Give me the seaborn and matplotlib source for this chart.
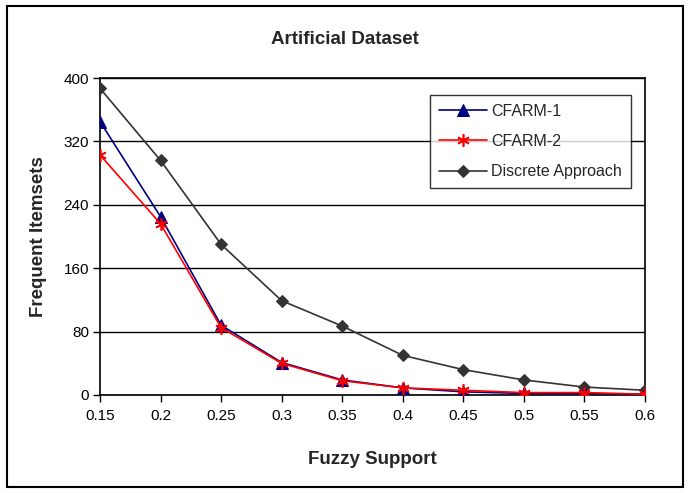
import matplotlib
matplotlib.use("Agg")
import matplotlib.pyplot as plt
import seaborn as sns
import pandas as pd
from matplotlib.patches import Rectangle

support = [0.15, 0.2, 0.25, 0.3, 0.35, 0.4, 0.45, 0.5, 0.55, 0.6]
cfarm1 = [345, 225, 88, 41, 19, 9, 4, 2, 2, 1]
cfarm2 = [303, 216, 85, 40, 18, 9, 6, 3, 3, 1]
discrete = [387, 296, 190, 119, 87, 50, 32, 19, 10, 6]
yticks = [0, 80, 160, 240, 320, 400]
xtick_labels = ["0.15", "0.2", "0.25", "0.3", "0.35", "0.4", "0.45", "0.5", "0.55", "0.6"]

sns.set_theme(style="white")
plt.rcParams['font.family'] = ['Liberation Sans', 'DejaVu Sans']

fig = plt.figure(figsize=(6.88, 4.93), dpi=100)
fig.patch.set_facecolor("white")
fig.patches.append(Rectangle((7/688, 6/493), 676/688, 481/493, transform=fig.transFigure,
                             fill=False, edgecolor="black", linewidth=1.5, zorder=0))

ax = fig.add_axes([100/688, (493-395)/493, 545/688, 317/493])

df1 = pd.DataFrame({"x": support, "y": cfarm1})
df2 = pd.DataFrame({"x": support, "y": cfarm2})
df3 = pd.DataFrame({"x": support, "y": discrete})

sns.lineplot(data=df1, x="x", y="y", ax=ax, color="#000080", marker="^", markersize=8,
             markeredgecolor="#000080", linewidth=1.2, label="CFARM-1", zorder=4)
sns.lineplot(data=df2, x="x", y="y", ax=ax, color="#FF0000", marker=(6, 2, 0), markersize=9,
             markeredgecolor="#FF0000", markeredgewidth=1.2, linewidth=1.2, label="CFARM-2", zorder=5)
sns.lineplot(data=df3, x="x", y="y", ax=ax, color="#333333", marker="D", markersize=6,
             markeredgecolor="#333333", linewidth=1.2, label="Discrete Approach", zorder=3)

ax.set_xlim(0.15, 0.6)
ax.set_ylim(0, 400)
ax.set_xticks(support)
ax.set_xticklabels(xtick_labels)
ax.set_yticks(yticks)
ax.yaxis.grid(True, color="black", linewidth=1.0)
ax.set_axisbelow(True)
for s in ax.spines.values():
    s.set_color("black")
    s.set_linewidth(1.2)
ax.tick_params(axis="both", which="both", direction="out", length=5, width=1.0,
               color="black", labelsize=11, labelcolor="black", pad=3)
ax.tick_params(axis="x", pad=5)
ax.tick_params(left=True, bottom=True)

ax.set_xlabel("Fuzzy Support", fontsize=13.5, fontweight="bold", labelpad=20)
ax.set_ylabel("Frequent Itemsets", fontsize=13.5, fontweight="bold", labelpad=12)
fig.text(345/688, 1 - 40/493, "Artificial Dataset", ha="center", va="center",
         fontsize=13.5, fontweight="bold")

leg = ax.legend(loc="upper left", bbox_to_anchor=((430-100)/545, (395-95)/317),
                frameon=True, fancybox=False, fontsize=11.5, handlelength=3.0,
                borderpad=0.55, labelspacing=0.95, handletextpad=0.3, borderaxespad=0)
leg.get_frame().set_edgecolor("black")
leg.get_frame().set_linewidth(1.0)

fig.savefig("out.png", dpi=100, facecolor="white")
